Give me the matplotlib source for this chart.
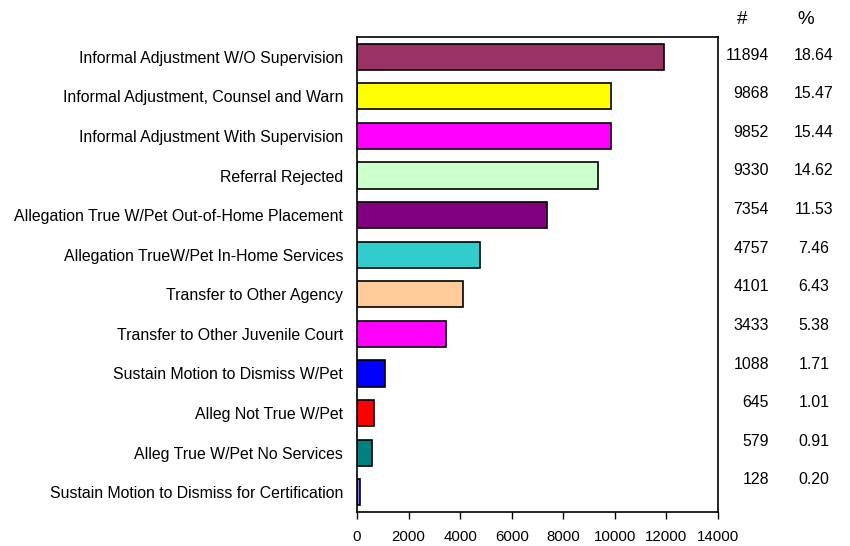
import matplotlib
matplotlib.use("Agg")
import matplotlib.pyplot as plt
import numpy as np

plt.rcParams['font.family'] = ['Liberation Sans', 'DejaVu Sans']

categories = [
    "Informal Adjustment W/O Supervision",
    "Informal Adjustment, Counsel and Warn",
    "Informal Adjustment With Supervision",
    "Referral Rejected",
    "Allegation True W/Pet Out-of-Home Placement",
    "Allegation TrueW/Pet In-Home Services",
    "Transfer to Other Agency",
    "Transfer to Other Juvenile Court",
    "Sustain Motion to Dismiss W/Pet",
    "Alleg Not True W/Pet",
    "Alleg True W/Pet No Services",
    "Sustain Motion to Dismiss for Certification",
]
counts = [11894, 9868, 9852, 9330, 7354, 4757, 4101, 3433, 1088, 645, 579, 128]
percents = ["18.64", "15.47", "15.44", "14.62", "11.53", "7.46",
            "6.43", "5.38", "1.71", "1.01", "0.91", "0.20"]
colors = ["#993366", "#FFFF00", "#FF00FF", "#CCFFCC", "#800080", "#33CCCC",
          "#FFCC99", "#FF00FF", "#0000FF", "#FF0000", "#008080", "#8080FF"]

W, H = 850, 546
fig = plt.figure(figsize=(8.5, 5.46), dpi=100)
ax = fig.add_axes([357 / W, 1 - 512 / H, (718 - 357) / W, (512 - 37) / H])

y = np.arange(len(categories))
ax.barh(y, counts, height=0.66, color=colors, edgecolor='black', linewidth=1.2)
ax.set_ylim(len(categories) - 0.5, -0.5)
ax.set_xlim(0, 14000)
ax.set_xticks(np.arange(0, 14001, 2000))
ax.set_yticks(y)
ax.set_yticklabels(categories, fontsize=11.4)
ax.tick_params(axis='y', length=0, pad=10)
ax.tick_params(axis='x', direction='out', length=5, width=1, labelsize=10.8, pad=8)
for s in ax.spines.values():
    s.set_linewidth(1.2)

# side table of counts and percents
fig.text(742 / W, 1 - 20 / H, "#", fontsize=13.5, ha='center', va='center')
fig.text(806 / W, 1 - 20 / H, "%", fontsize=13.5, ha='center', va='center')
ys = np.linspace(55, 480, len(counts))
for yy, c, p in zip(ys, counts, percents):
    fig.text(769 / W, 1 - yy / H, str(c), fontsize=11.4, ha='right', va='center')
    fig.text(814 / W, 1 - yy / H, p, fontsize=11.4, ha='center', va='center')

fig.savefig("out.png", dpi=100)
